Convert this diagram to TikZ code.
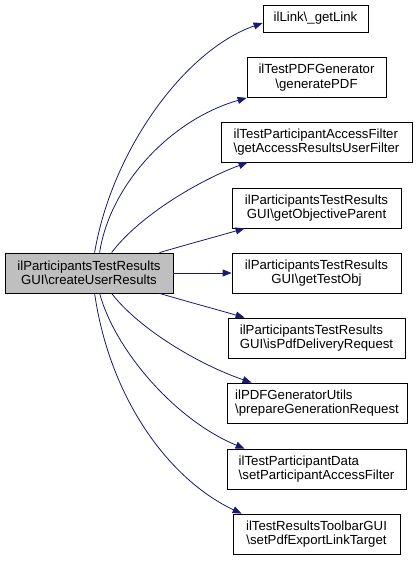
\documentclass[tikz,border=0pt]{standalone}
\usepackage{fontspec}
\setmainfont{Liberation Sans}
\usetikzlibrary{arrows.meta,calc}
\definecolor{edgeblue}{HTML}{191970}
\definecolor{rootgray}{HTML}{BFBFBF}
\begin{document}
\begin{tikzpicture}[x=1bp,y=-1bp,
  box/.style={draw=black,line width=0.8bp,fill=white,inner sep=0pt,minimum height=40bp,
    font=\fontsize{13.2bp}{14.5bp}\selectfont},
  edge/.style={draw=edgeblue,line width=0.8bp,-{Triangle[length=9bp,width=7bp]}}]
\useasboundingbox (0,0) rectangle (417,561);
\node[box,fill=rootgray,minimum width=168bp,align=center] (L) at (89,273) {ilParticipantsTestResults\\GUI\textbackslash createUserResults};
\node[box,minimum width=105bp,minimum height=27bp,align=center] (T1) at (315.5,18.5) {ilLink\textbackslash \_getLink};
\node[box,minimum width=139bp,align=center] (T2) at (316.5,77.5) {ilTestPDFGenerator\\\textbackslash generatePDF};
\node[box,minimum width=191bp,align=left] (T3) at (316.5,142) {ilTestParticipantAccessFilter\\\textbackslash getAccessResultsUserFilter};
\node[box,minimum width=169bp,align=center] (T4) at (316.5,208) {ilParticipantsTestResults\\GUI\textbackslash getObjectiveParent};
\node[box,minimum width=169bp,align=center] (T5) at (316.5,273) {ilParticipantsTestResults\\GUI\textbackslash getTestObj};
\node[box,minimum width=177bp,align=left] (T6) at (316.5,338) {ilParticipantsTestResults\\GUI\textbackslash isPdfDeliveryRequest};
\node[box,minimum width=180bp,align=left] (T7) at (317,403) {ilPDFGeneratorUtils\\\textbackslash prepareGenerationRequest};
\node[box,minimum width=179bp,align=left] (T8) at (316.5,469) {ilTestParticipantData\\\textbackslash setParticipantAccessFilter};
\node[box,minimum width=167bp,align=center] (T9) at (316.5,534) {ilTestResultsToolbarGUI\\\textbackslash setPdfExportLinkTarget};
\path[edge] ($(L.north west)+(90,0)$) .. controls (112,150) and (185,50) .. ($(T1.west)+(0,4.5)$);
\path[edge] ($(L.north west)+(95,0)$) .. controls (110,185) and (170,120) .. (T2.south west);
\path[edge] ($(L.north west)+(107,0)$) .. controls (140,215) and (200,180) .. ($(T3.south west)+(27,0)$);
\path[edge] ($(L.north west)+(155,0)$) .. controls (185,245) and (215,237) .. ($(T4.south west)+(13,0)$);
\path[edge] (L.east) -- (T5.west);
\path[edge] ($(L.south west)+(155,0)$) .. controls (185,301) and (215,309) .. ($(T6.north west)+(17,0)$);
\path[edge] ($(L.south west)+(107,0)$) .. controls (140,330) and (200,365) .. ($(T7.north west)+(25,0)$);
\path[edge] ($(L.south west)+(95,0)$) .. controls (115,350) and (175,420) .. ($(T8.north west)+(18,0)$);
\path[edge] ($(L.south west)+(90,0)$) .. controls (110,400) and (170,480) .. ($(T9.north west)+(9,0)$);
\end{tikzpicture}
\end{document}
